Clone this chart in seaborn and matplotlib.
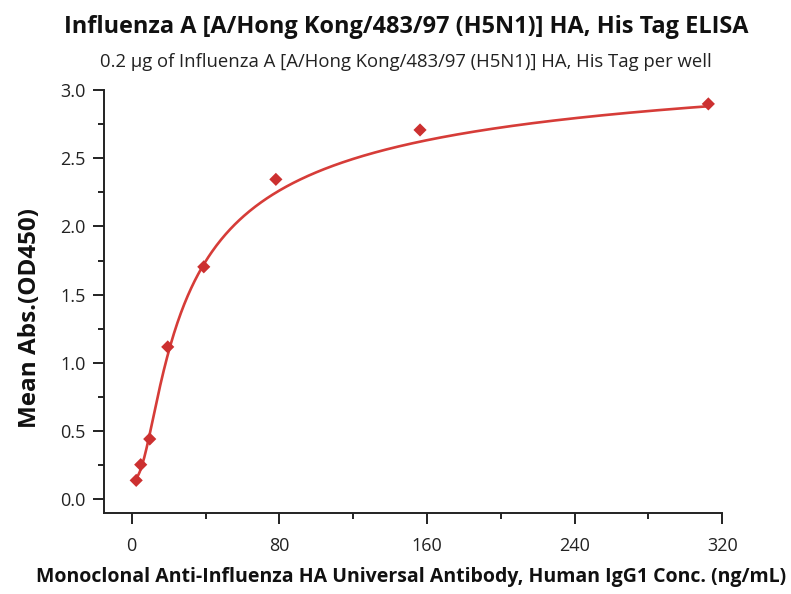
import numpy as np
import pandas as pd
import matplotlib
matplotlib.use("Agg")
import matplotlib.pyplot as plt
import seaborn as sns
from matplotlib.ticker import MultipleLocator, FormatStrFormatter

# Measured data (ng/mL vs mean OD450)
conc = [2.44, 4.88, 9.77, 19.53, 39.06, 78.13, 156.25, 312.5]
od = [0.139, 0.254, 0.442, 1.117, 1.704, 2.345, 2.707, 2.898]

# Logistic (5PL) fit parameters of the drawn curve: bottom, top, EC50, hill, asymmetry
fit_bottom = 0.13827
fit_top = 3.46
fit_c = 11.9
fit_hill = 2.3936
fit_asym = 0.22327

title = "Influenza A [A/Hong Kong/483/97 (H5N1)] HA, His Tag ELISA"
subtitle = "0.2 μg of Influenza A [A/Hong Kong/483/97 (H5N1)] HA, His Tag per well"
xlabel = "Monoclonal Anti-Influenza HA Universal Antibody, Human IgG1 Conc. (ng/mL)"
ylabel = "Mean Abs.(OD450)"


def logistic5(x):
    return fit_top + (fit_bottom - fit_top) / (1 + (x / fit_c) ** fit_hill) ** fit_asym


sns.set_theme(style="ticks")
plt.rcParams['font.family'] = ['Open Sans', 'DejaVu Sans']
fig = plt.figure(figsize=(7.91, 5.94), dpi=100)
ax = fig.add_axes([0.1315, 0.1364, 0.7815, 0.7121])

xs = np.linspace(min(conc), max(conc), 500)
curve = pd.DataFrame({"x": xs, "y": logistic5(xs)})
sns.lineplot(data=curve, x="x", y="y", color="#d63c38", lw=1.9, ax=ax)
sns.scatterplot(x=conc, y=od, marker="D", color="#cc3030", s=45, edgecolor="none", ax=ax, zorder=3)

ax.set_xlim(-15, 320)
ax.set_ylim(-0.1, 3.0)
ax.xaxis.set_major_locator(MultipleLocator(80))
ax.xaxis.set_minor_locator(MultipleLocator(40))
ax.yaxis.set_major_locator(MultipleLocator(0.5))
ax.yaxis.set_minor_locator(MultipleLocator(0.25))
ax.yaxis.set_major_formatter(FormatStrFormatter('%.1f'))
sns.despine(ax=ax)
for s in ax.spines.values():
    s.set_linewidth(1.4)
    s.set_color("#222222")
ax.tick_params(which="major", length=8, width=1.4, labelsize=13, color="#222222", labelcolor="#222222")
ax.tick_params(which="minor", length=4.5, width=1.4, color="#222222")
ax.tick_params(axis="x", which="major", pad=9)
ax.tick_params(axis="y", which="major", pad=5)
ax.set_xlabel("")
ax.set_ylabel("")

fig.text(411 / 791, 1 - 577 / 594, xlabel, ha="center", va="center", fontsize=14, fontweight="bold", color="#111111")
fig.text(30 / 791, 1 - 318 / 594, ylabel, ha="center", va="center", rotation=90, fontsize=17.5, fontweight="bold", color="#111111")
fig.text(406 / 791, 1 - 27 / 594, title, ha="center", va="center", fontsize=16.9, fontweight="bold", color="#111111")
fig.text(406 / 791, 1 - 62 / 594, subtitle, ha="center", va="center", fontsize=13.3, color="#222222")
fig.savefig("out.png", dpi=100)
